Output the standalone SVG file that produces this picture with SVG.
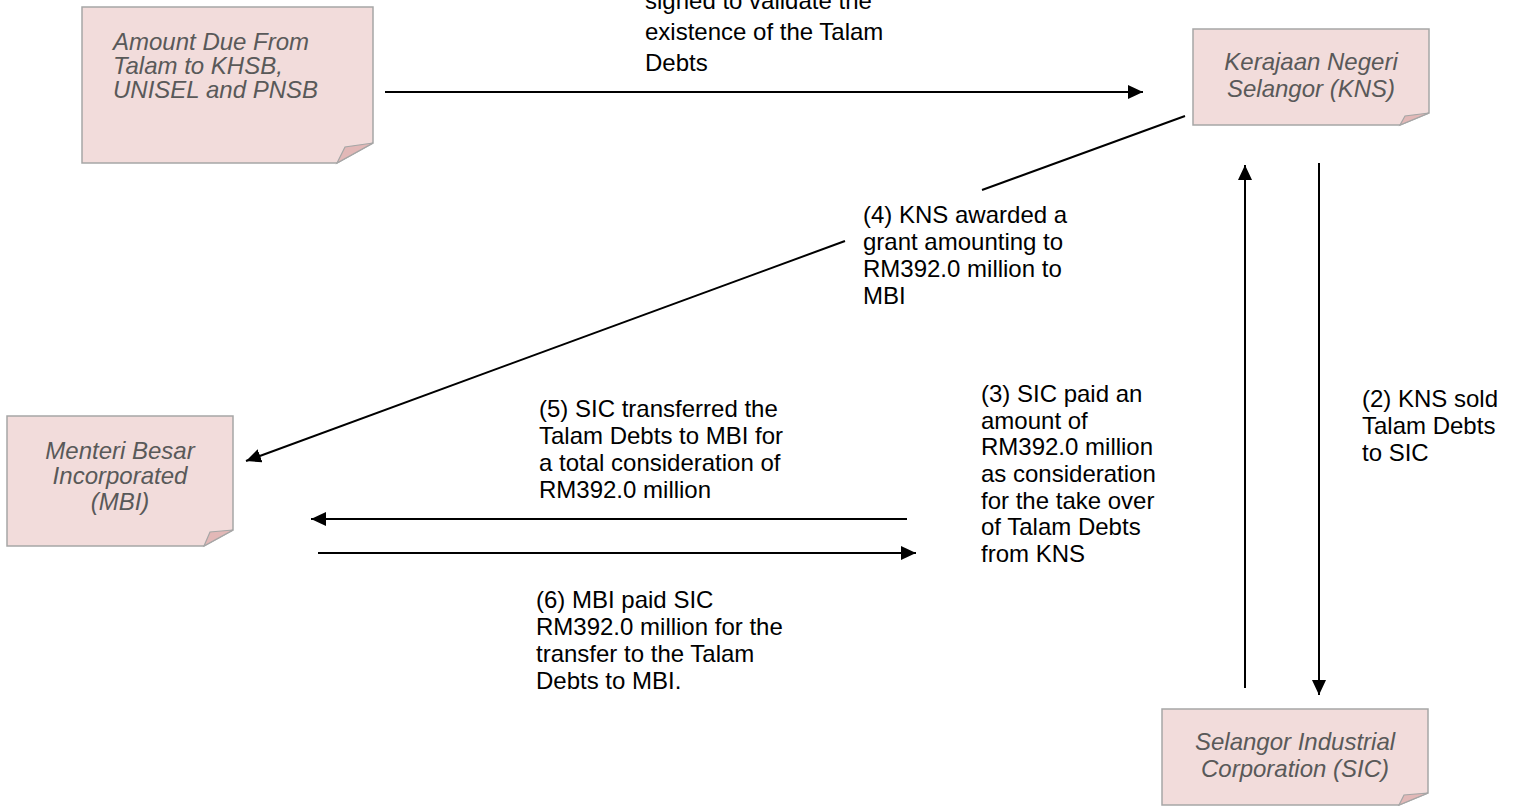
<svg xmlns="http://www.w3.org/2000/svg" width="1517" height="806" viewBox="0 0 1517 806">
<defs>
<marker id="ah" markerUnits="userSpaceOnUse" markerWidth="16" markerHeight="14" refX="15" refY="7" orient="auto">
<path d="M0,0 L15,7 L0,14 Z" fill="#000"/>
</marker>
</defs>
<style>
.box{fill:#F2DCDB;stroke:#A6A6A6;stroke-width:1.5}
.fold{fill:#E2B8B7;stroke:#A6A6A6;stroke-width:1.2}
.nt{font-family:"Liberation Sans",Arial,sans-serif;font-size:24px;font-style:italic;fill:#595959}
.lb{font-family:"Liberation Sans",Arial,sans-serif;font-size:24px;fill:#000}
.cn{stroke:#000;stroke-width:2;fill:none}
</style>
<rect width="1517" height="806" fill="#fff"/>
<g id="connectors">
<line class="cn" x1="385" y1="92" x2="1143" y2="92" marker-end="url(#ah)"/>
<line class="cn" x1="1185" y1="116" x2="982" y2="190"/>
<line class="cn" x1="845" y1="241" x2="246" y2="461" marker-end="url(#ah)"/>
<line class="cn" x1="1245" y1="688" x2="1245" y2="165" marker-end="url(#ah)"/>
<line class="cn" x1="1319" y1="163" x2="1319" y2="695" marker-end="url(#ah)"/>
<line class="cn" x1="907" y1="519" x2="311" y2="519" marker-end="url(#ah)"/>
<line class="cn" x1="318" y1="553" x2="916" y2="553" marker-end="url(#ah)"/>
</g>
<g id="node-amount">
<path class="box" d="M82,7 H373 V143 L337,163 H82 Z"/>
<path class="fold" d="M337,163 L345,147 L373,143 Z"/>
<text class="nt" x="113"><tspan x="113" y="50">Amount Due From</tspan><tspan x="113" y="74">Talam to KHSB,</tspan><tspan x="113" y="98">UNISEL and PNSB</tspan></text>
</g>
<g id="node-kns">
<path class="box" d="M1193,29 H1429 V113 L1400,125 H1193 Z"/>
<path class="fold" d="M1400,125 L1405,116 L1429,113 Z"/>
<text class="nt" text-anchor="middle"><tspan x="1311" y="70">Kerajaan Negeri</tspan><tspan x="1311" y="97">Selangor (KNS)</tspan></text>
</g>
<g id="node-mbi">
<path class="box" d="M7,416 H233 V530 L204,546 H7 Z"/>
<path class="fold" d="M204,546 L210,532 L233,530 Z"/>
<text class="nt" text-anchor="middle"><tspan x="120" y="459">Menteri Besar</tspan><tspan x="120" y="484">Incorporated</tspan><tspan x="120" y="510">(MBI)</tspan></text>
</g>
<g id="node-sic">
<path class="box" d="M1162,709 H1428 V793 L1399,805 H1162 Z"/>
<path class="fold" d="M1399,805 L1404,795 L1428,793 Z"/>
<text class="nt" text-anchor="middle"><tspan x="1295" y="750">Selangor Industrial</tspan><tspan x="1295" y="777">Corporation (SIC)</tspan></text>
</g>
<g id="labels">
<text class="lb"><tspan x="645" y="9">signed to validate the</tspan><tspan x="645" y="40">existence of the Talam</tspan><tspan x="645" y="71">Debts</tspan></text>
<text class="lb"><tspan x="863" y="223">(4) KNS awarded a</tspan><tspan x="863" y="250">grant amounting to</tspan><tspan x="863" y="277">RM392.0 million to</tspan><tspan x="863" y="304">MBI</tspan></text>
<text class="lb"><tspan x="981" y="402">(3) SIC paid an</tspan><tspan x="981" y="429">amount of</tspan><tspan x="981" y="455">RM392.0 million</tspan><tspan x="981" y="482">as consideration</tspan><tspan x="981" y="509">for the take over</tspan><tspan x="981" y="535">of Talam Debts</tspan><tspan x="981" y="562">from KNS</tspan></text>
<text class="lb"><tspan x="1362" y="407">(2) KNS sold</tspan><tspan x="1362" y="434">Talam Debts</tspan><tspan x="1362" y="461">to SIC</tspan></text>
<text class="lb"><tspan x="539" y="417">(5) SIC transferred the</tspan><tspan x="539" y="444">Talam Debts to MBI for</tspan><tspan x="539" y="471">a total consideration of</tspan><tspan x="539" y="498">RM392.0 million</tspan></text>
<text class="lb"><tspan x="536" y="608">(6) MBI paid SIC</tspan><tspan x="536" y="635">RM392.0 million for the</tspan><tspan x="536" y="662">transfer to the Talam</tspan><tspan x="536" y="689">Debts to MBI.</tspan></text>
</g>
</svg>
